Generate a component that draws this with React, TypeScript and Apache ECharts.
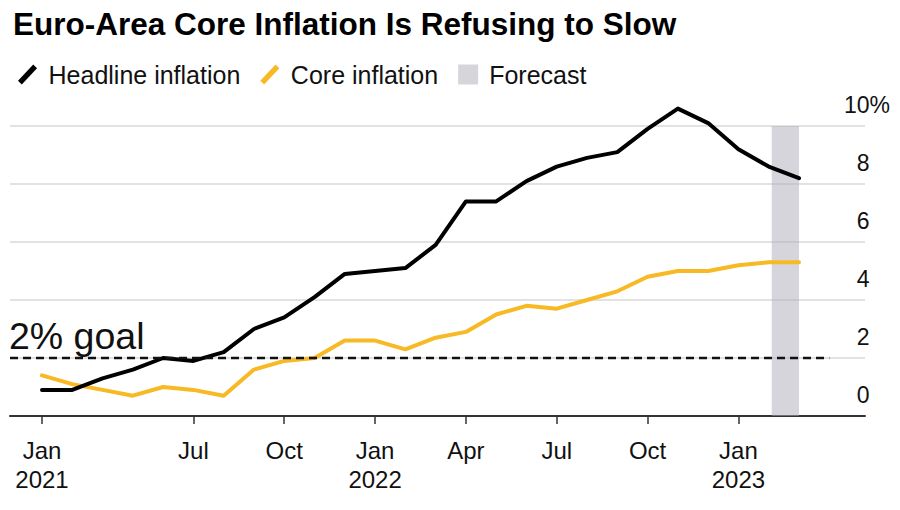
import React, { useEffect, useRef } from "react";
import * as echarts from "echarts";

const months = [
  "Jan 2021", "Feb 2021", "Mar 2021", "Apr 2021", "May 2021", "Jun 2021",
  "Jul 2021", "Aug 2021", "Sep 2021", "Oct 2021", "Nov 2021", "Dec 2021",
  "Jan 2022", "Feb 2022", "Mar 2022", "Apr 2022", "May 2022", "Jun 2022",
  "Jul 2022", "Aug 2022", "Sep 2022", "Oct 2022", "Nov 2022", "Dec 2022",
  "Jan 2023", "Feb 2023",
];
const headline = [
  0.9, 0.9, 1.3, 1.6, 2.0, 1.9, 2.2, 3.0, 3.4, 4.1, 4.9, 5.0,
  5.1, 5.9, 7.4, 7.4, 8.1, 8.6, 8.9, 9.1, 9.9, 10.6, 10.1, 9.2,
  8.6, 8.2,
];
const core = [
  1.4, 1.1, 0.9, 0.7, 1.0, 0.9, 0.7, 1.6, 1.9, 2.0, 2.6, 2.6,
  2.3, 2.7, 2.9, 3.5, 3.8, 3.7, 4.0, 4.3, 4.8, 5.0, 5.0, 5.2,
  5.3, 5.3,
];
const tickIndices = [0, 5, 8, 11, 14, 17, 20, 23];
const tickLabels = ["Jan\n2021", "Jul", "Oct", "Jan\n2022", "Apr", "Jul", "Oct", "Jan\n2023"];
const goalValue = 2;
const goalLabel = "2% goal";
const forecastRange = [24.1, 25];

const FONT = '"Liberation Sans", Arial, Helvetica, sans-serif';
const SLASH = "path://M0,17 L16,0 L20,4 L4,21 Z";

export default function App() {
  const ref = useRef<HTMLDivElement>(null);
  useEffect(() => {
    if (!ref.current) return;
    document.body.style.margin = "0";
    const chart = echarts.init(ref.current, null, { renderer: "svg" });
    const xMin = -1.057;
    const xMax = 27.18;
    const labelMap: Record<number, string> = {};
    tickIndices.forEach((t, i) => (labelMap[t] = tickLabels[i]));
    chart.setOption({
      animation: false,
      backgroundColor: "#ffffff",
      textStyle: { fontFamily: FONT },
      title: {
        text: "Euro-Area Core Inflation Is Refusing to Slow",
        left: 8,
        top: 3,
        textStyle: { fontFamily: FONT, fontSize: 31.5, fontWeight: "bold", color: "#000" },
      },
      legend: {
        left: 13,
        top: 57,
        itemWidth: 20,
        itemHeight: 20,
        itemGap: 20,
        textStyle: { fontFamily: FONT, fontSize: 25, color: "#111", padding: [0, 0, 0, 6] },
        data: [
          { name: "Headline inflation", icon: SLASH },
          { name: "Core inflation", icon: SLASH },
          { name: "Forecast", icon: "rect", itemStyle: { color: "#d6d5da" } },
        ],
      },
      grid: { left: 10, right: 35, top: 126, bottom: 94, containLabel: false },
      xAxis: {
        type: "value",
        min: xMin,
        max: xMax,
        splitLine: { show: false },
        axisLine: { show: true, lineStyle: { color: "#333", width: 2 } },
        axisTick: {
          show: true,
          customValues: tickIndices,
          length: 8,
          lineStyle: { color: "#333", width: 1.5 },
        },
        axisLabel: {
          customValues: tickIndices,
          formatter: (v: number) => labelMap[Math.round(v)] ?? "",
          fontFamily: FONT,
          fontSize: 24,
          lineHeight: 29,
          color: "#111",
          margin: 20,
        },
      },
      yAxis: {
        type: "value",
        position: "right",
        min: 0,
        max: 10,
        interval: 2,
        axisLine: { show: false },
        axisTick: { show: false },
        splitLine: { show: true, lineStyle: { color: "#d9d9d9", width: 1.5 } },
        axisLabel: {
          formatter: (v: number) => (v === 10 ? "10%" : `${v}{h|%}`),
          align: "right",
          verticalAlign: "bottom",
          margin: 25,
          padding: [0, 0, 9, 0],
          fontFamily: FONT,
          fontSize: 23,
          lineHeight: 24,
          color: "#111",
          rich: { h: { color: "rgba(0,0,0,0)", fontSize: 23, fontFamily: FONT, lineHeight: 24 } },
        },
      },
      graphic: [
        {
          type: "text",
          left: 9,
          top: 317,
          style: { text: goalLabel, fontFamily: FONT, fontSize: 37.5, fill: "#111" },
        },
      ],
      series: [
        {
          name: "Forecast",
          type: "line",
          data: [],
          color: "#d6d5da",
          markArea: {
            silent: true,
            itemStyle: { color: "rgba(175,172,185,0.5)" },
            data: [[{ coord: [forecastRange[0], 0] }, { coord: [forecastRange[1], 10] }]],
          },
          markLine: {
            silent: true,
            symbol: "none",
            label: { show: false },
            lineStyle: { color: "#111", width: 2.3, type: [8, 5] },
            data: [[{ coord: [xMin, goalValue] }, { coord: [26, goalValue] }]],
          },
        },
        {
          name: "Core inflation",
          type: "line",
          color: "#f7b924",
          symbol: "none",
          clip: false,
          lineStyle: { width: 4, color: "#f7b924", cap: "round", join: "round" },
          data: core.map((v, i) => [i, v]),
        },
        {
          name: "Headline inflation",
          type: "line",
          color: "#000",
          symbol: "none",
          clip: false,
          lineStyle: { width: 4, color: "#000", cap: "round", join: "round" },
          data: headline.map((v, i) => [i, v]),
        },
      ],
    });
    return () => chart.dispose();
  }, []);
  return <div ref={ref} data-months={months.length} style={{ width: 900, height: 510 }} />;
}
